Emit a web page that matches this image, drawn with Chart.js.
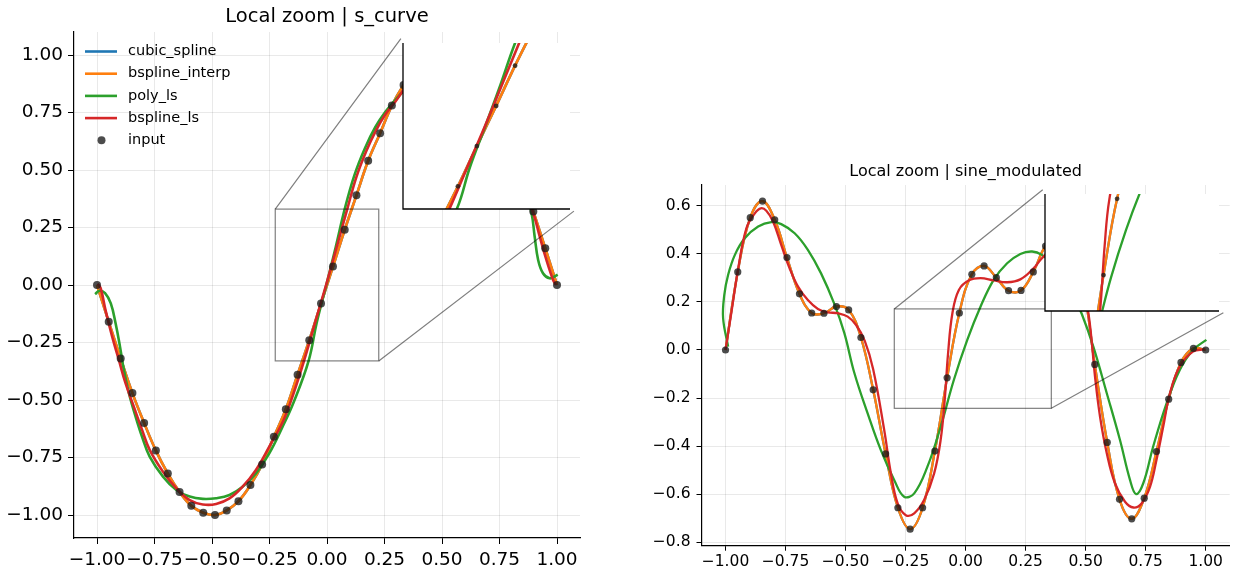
<!DOCTYPE html>
<html>
<head>
<meta charset="utf-8">
<script src="https://cdn.jsdelivr.net/npm/chart.js@4.4.1/dist/chart.umd.min.js"></script>
<style>
  body { margin: 0; background: #fff; }
  #wrap { position: relative; width: 1235px; height: 575px; overflow: hidden; }
  canvas { position: absolute; top: 0; }
</style>
</head>
<body>
<div id="wrap">
  <canvas id="mainS" width="620" height="575" style="left:0px"></canvas>
  <canvas id="mainSine" width="615" height="575" style="left:620px"></canvas>
  <canvas id="insetS"></canvas>
  <canvas id="insetSine"></canvas>
</div>
<script>
// shared parameter grid of the input points
const xIn = [-1, -0.949, -0.897, -0.846, -0.795, -0.744, -0.692, -0.641, -0.59, -0.538,
  -0.487, -0.436, -0.385, -0.333, -0.282, -0.231, -0.179, -0.128, -0.077, -0.026,
  0.026, 0.077, 0.128, 0.179, 0.231, 0.282, 0.333, 0.385, 0.436, 0.487,
  0.538, 0.59, 0.641, 0.692, 0.744, 0.795, 0.846, 0.897, 0.949, 1];

// s_curve
const sCurveIn = [0, -0.16, -0.32, -0.47, -0.6, -0.72, -0.82, -0.9, -0.96, -0.99,
  -1, -0.98, -0.94, -0.87, -0.78, -0.66, -0.54, -0.39, -0.24, -0.08,
  0.08, 0.24, 0.39, 0.54, 0.66, 0.78, 0.87, 0.94, 0.98, 1,
  0.99, 0.96, 0.9, 0.82, 0.72, 0.6, 0.47, 0.32, 0.16, 0];
const sCurvePolyX = [-1.008, -0.99, -0.965, -0.94, -0.919, -0.9, -0.883, -0.861, -0.832, -0.804,
  -0.771, -0.713, -0.655, -0.597, -0.54, -0.482, -0.424, -0.367, -0.309, -0.251,
  -0.193, -0.145, -0.08, -0.045, -0.003, 0.038, 0.077, 0.12, 0.165, 0.211,
  0.254, 0.297, 0.36, 0.45, 0.55, 0.65, 0.75, 0.83, 0.889, 0.903,
  0.918, 0.939, 0.968, 0.993, 1.003];
const sCurvePolyY = [-0.04, -0.025, -0.035, -0.08, -0.167, -0.268, -0.37, -0.471, -0.573, -0.66,
  -0.746, -0.833, -0.891, -0.92, -0.93, -0.927, -0.913, -0.877, -0.819, -0.732,
  -0.616, -0.51, -0.33, -0.165, 0, 0.165, 0.33, 0.48, 0.595, 0.688,
  0.753, 0.804, 0.87, 0.93, 0.95, 0.9, 0.76, 0.55, 0.314, 0.21,
  0.109, 0.051, 0.029, 0.039, 0.045];
const sCurveBlsX = [-0.997, -0.984, -0.963, -0.934, -0.905, -0.876, -0.84, -0.804, -0.771, -0.713,
  -0.655, -0.597, -0.54, -0.482, -0.424, -0.367, -0.309, -0.251, -0.19, -0.145,
  -0.1, -0.052, -0.004, 0.042, 0.088, 0.128, 0.17, 0.211, 0.254, 0.297,
  0.4, 0.5, 0.6, 0.7, 0.8, 0.896, 0.925, 0.954, 0.983, 0.995];
const sCurveBlsY = [0.005, -0.014, -0.109, -0.225, -0.326, -0.427, -0.529, -0.63, -0.717, -0.812,
  -0.884, -0.935, -0.954, -0.952, -0.928, -0.877, -0.804, -0.703, -0.59, -0.47,
  -0.33, -0.165, 0, 0.165, 0.33, 0.47, 0.58, 0.668, 0.742, 0.797,
  0.93, 0.96, 0.91, 0.77, 0.56, 0.314, 0.21, 0.109, 0.022, 0];

// sine_modulated
const sinModIn = [0, 0.325, 0.551, 0.62, 0.542, 0.385, 0.234, 0.154, 0.153, 0.181,
  0.167, 0.052, -0.166, -0.433, -0.657, -0.746, -0.657, -0.421, -0.116, 0.154,
  0.315, 0.35, 0.301, 0.247, 0.248, 0.325, 0.433, 0.47, 0.42, 0.28,
  -0.06, -0.385, -0.622, -0.703, -0.617, -0.423, -0.205, -0.052, 0.007, 0];
const sinModPolyX = [-0.989, -1.01, -1.005, -0.989, -0.961, -0.92, -0.864, -0.809, -0.768, -0.712,
  -0.657, -0.602, -0.546, -0.505, -0.463, -0.408, -0.353, -0.297, -0.256, -0.214,
  -0.159, -0.104, -0.049, 0.007, 0.062, 0.117, 0.173, 0.228, 0.277, 0.318,
  0.37, 0.42, 0.455, 0.484, 0.532, 0.588, 0.643, 0.685, 0.71, 0.74,
  0.781, 0.837, 0.892, 0.947, 1.003];
const sinModPolyY = [0.014, 0.132, 0.229, 0.313, 0.396, 0.465, 0.514, 0.532, 0.524, 0.486,
  0.417, 0.319, 0.19, 0.07, -0.097, -0.264, -0.417, -0.542, -0.611, -0.597,
  -0.486, -0.32, -0.125, 0.042, 0.18, 0.292, 0.361, 0.4, 0.41, 0.396,
  0.35, 0.27, 0.21, 0.15, 0.014, -0.18, -0.375, -0.542, -0.6, -0.555,
  -0.403, -0.222, -0.083, 0, 0.042];
const sinModBlsX = [-1, -0.975, -0.947, -0.913, -0.878, -0.853, -0.83, -0.802, -0.768, -0.733,
  -0.698, -0.657, -0.615, -0.574, -0.532, -0.491, -0.456, -0.42, -0.385, -0.339,
  -0.311, -0.283, -0.249, -0.214, -0.173, -0.131, -0.104, -0.087, -0.073, -0.055,
  -0.028, 0.014, 0.062, 0.117, 0.173, 0.228, 0.283, 0.318, 0.37, 0.42,
  0.46, 0.49, 0.512, 0.526, 0.539, 0.56, 0.588, 0.622, 0.664, 0.699,
  0.733, 0.768, 0.795, 0.823, 0.851, 0.892, 0.947, 0.996];
const sinModBlsY = [0, 0.16, 0.34, 0.507, 0.569, 0.59, 0.58, 0.535, 0.438, 0.34,
  0.264, 0.208, 0.171, 0.157, 0.153, 0.139, 0.104, 0.038, -0.08, -0.333,
  -0.514, -0.639, -0.688, -0.68, -0.625, -0.514, -0.375, -0.208, -0.014, 0.153,
  0.25, 0.29, 0.299, 0.29, 0.282, 0.294, 0.34, 0.382, 0.43, 0.44,
  0.38, 0.27, 0.15, 0.028, -0.111, -0.278, -0.43, -0.555, -0.632, -0.656,
  -0.639, -0.57, -0.458, -0.32, -0.18, -0.069, -0.007, 0.003];

// ticks and zoom windows
const xTicks = [-1, -0.75, -0.5, -0.25, 0, 0.25, 0.5, 0.75, 1];
const sCurveYTicks = [-1, -0.75, -0.5, -0.25, 0, 0.25, 0.5, 0.75, 1];
const sinModYTicks = [-0.8, -0.6, -0.4, -0.2, 0, 0.2, 0.4, 0.6];
const sCurveZoomX = [-0.225, 0.225], sCurveZoomY = [-0.33, 0.33];
const sinModZoomX = [-0.297, 0.357], sinModZoomY = [-0.243, 0.171];

const FONT = "'DejaVu Sans', sans-serif";
const COL = { blue: '#1f77b4', orange: '#ff7f0e', green: '#2ca02c', red: '#d62728', dot: 'rgba(25,25,25,0.78)' };
const INSET = { l: 0.646, r: 0.988, b: 0.646, t: 0.987 }; // fraction of plot area

function fmtTick(v, d) {
  return (v < -1e-9 ? '\u2212' : '') + Math.abs(v).toFixed(d);
}

function pts(xs, ys) { return xs.map((x, i) => ({ x, y: ys[i] })); }

function lineSet(label, color, xs, ys, lw, order, clip) {
  return { label, data: pts(xs, ys), showLine: true, borderColor: color, backgroundColor: color,
    borderWidth: lw, pointRadius: 0, tension: 0.4, order, clip };
}

function buildSets(inY, polyX, polyY, blsX, blsY, lw, r, clip) {
  return [
    lineSet('cubic_spline', COL.blue, xIn, inY, lw, 4, clip),
    lineSet('bspline_interp', COL.orange, xIn, inY, lw, 3, clip),
    lineSet('poly_ls', COL.green, polyX, polyY, lw, 2, clip),
    lineSet('bspline_ls', COL.red, blsX, blsY, lw, 1, clip),
    { label: 'input', data: pts(xIn, inY), showLine: false, pointRadius: r,
      pointBackgroundColor: COL.dot, pointBorderWidth: 0, order: 0, clip }
  ];
}

function insetBox(a) {
  const w = a.right - a.left, h = a.bottom - a.top;
  return { x0: a.left + INSET.l * w, x1: a.left + INSET.r * w,
           y0: a.bottom - INSET.t * h, y1: a.bottom - INSET.b * h };
}

function mainChart(id, s) {
  const decor = {
    id: 'decor',
    afterDatasetsDraw(chart) {
      const { ctx, chartArea, scales } = chart;
      const rx0 = scales.x.getPixelForValue(s.zoomX[0]), rx1 = scales.x.getPixelForValue(s.zoomX[1]);
      const ryT = scales.y.getPixelForValue(s.zoomY[1]), ryB = scales.y.getPixelForValue(s.zoomY[0]);
      const b = insetBox(chartArea);
      ctx.save();
      ctx.strokeStyle = 'rgba(0,0,0,0.5)';
      ctx.lineWidth = 1.2;
      ctx.strokeRect(rx0, ryT, rx1 - rx0, ryB - ryT);
      ctx.beginPath();
      ctx.moveTo(rx0, ryT); ctx.lineTo(b.x0, b.y0);
      ctx.moveTo(rx1, ryB); ctx.lineTo(b.x1, b.y1);
      ctx.stroke();
      ctx.restore();
    },
    afterDraw(chart) {
      const { ctx, chartArea } = chart;
      ctx.save();
      ctx.fillStyle = '#000';
      ctx.font = s.titleSize + 'px ' + FONT;
      ctx.textAlign = 'center';
      ctx.textBaseline = 'middle';
      ctx.fillText(s.title, (chartArea.left + chartArea.right) / 2, s.titleY);
      if (s.legend) {
        ctx.font = '14.5px ' + FONT;
        ctx.textAlign = 'left';
        chart.data.datasets.forEach((ds, i) => {
          const yy = 51.5 + i * 22.2;
          if (ds.showLine) {
            ctx.strokeStyle = ds.borderColor;
            ctx.lineWidth = s.lw;
            ctx.beginPath(); ctx.moveTo(85, yy); ctx.lineTo(117, yy); ctx.stroke();
          } else {
            ctx.fillStyle = ds.pointBackgroundColor;
            ctx.beginPath(); ctx.arc(101.5, yy, s.r, 0, Math.PI * 2); ctx.fill();
          }
          ctx.fillStyle = '#000';
          ctx.fillText(ds.label, 128, yy);
        });
      }
      ctx.restore();
    }
  };
  const axis = (ticks, min, max, dec, pad, fit) => ({
    type: 'linear', min, max,
    afterBuildTicks: (sc) => { sc.ticks = ticks.map(v => ({ value: v })); },
    afterFit: fit,
    ticks: { autoSkip: false, maxRotation: 0, color: '#000', padding: pad,
      font: { family: FONT, size: s.tickSize }, callback: (v) => fmtTick(v, dec) },
    grid: { color: 'rgba(0,0,0,0.085)', lineWidth: 1, tickLength: s.tickLen, tickColor: '#000', tickWidth: 1 },
    border: { color: '#000', width: 1.2 }
  });
  return new Chart(document.getElementById(id), {
    type: 'scatter',
    data: { datasets: buildSets(s.inY, s.polyX, s.polyY, s.blsX, s.blsY, s.lw, s.r) },
    options: {
      responsive: false, animation: false, events: [],
      layout: { padding: { top: s.top, right: s.right, left: 0, bottom: 0 } },
      elements: { line: { capBezierPoints: false } },
      plugins: { legend: { display: false }, tooltip: { enabled: false }, title: { display: false } },
      scales: {
        x: axis(xTicks, -1.1, 1.1, 2, s.xPad, (sc) => { sc.height = s.xh; }),
        y: axis(s.yTicks, s.ymin, s.ymax, s.ydec, s.yPad, (sc) => { sc.width = s.yw; })
      }
    },
    plugins: [decor]
  });
}

function insetChart(id, main, offsetLeft, s) {
  const b = insetBox(main.chartArea);
  const x0 = Math.round(b.x0), y0 = Math.round(b.y0);
  const w = Math.round(b.x1) - x0, h = Math.round(b.y1) - y0;
  const cv = document.getElementById(id);
  cv.width = w + 2; cv.height = h + 2;
  cv.style.left = (offsetLeft + x0 - 2) + 'px';
  cv.style.top = y0 + 'px';
  const frame = {
    id: 'frame',
    beforeDraw(chart) {
      const a = chart.chartArea, ctx = chart.ctx;
      ctx.save(); ctx.fillStyle = '#fff';
      ctx.fillRect(a.left, a.top, a.right - a.left, a.bottom - a.top);
      ctx.restore();
    },
    afterDraw(chart) {
      const a = chart.chartArea, ctx = chart.ctx;
      ctx.save(); ctx.strokeStyle = '#000'; ctx.lineWidth = 1.3;
      ctx.beginPath();
      ctx.moveTo(a.left, a.top); ctx.lineTo(a.left, a.bottom); ctx.lineTo(a.right, a.bottom);
      ctx.stroke(); ctx.restore();
    }
  };
  return new Chart(cv, {
    type: 'scatter',
    data: { datasets: buildSets(s.inY, s.polyX, s.polyY, s.blsX, s.blsY, s.lw, 2.4, 0) },
    options: {
      responsive: false, animation: false, events: [],
      layout: { padding: { top: 0, right: 0, left: 2, bottom: 2 } },
      elements: { line: { capBezierPoints: false } },
      plugins: { legend: { display: false }, tooltip: { enabled: false } },
      scales: {
        x: { type: 'linear', display: false, min: s.zoomX[0], max: s.zoomX[1] },
        y: { type: 'linear', display: false, min: s.zoomY[0], max: s.zoomY[1] }
      }
    },
    plugins: [frame]
  });
}

const sCfg = {
  title: 'Local zoom | s_curve', titleSize: 19.5, titleY: 17, legend: true,
  inY: sCurveIn, polyX: sCurvePolyX, polyY: sCurvePolyY, blsX: sCurveBlsX, blsY: sCurveBlsY,
  yTicks: sCurveYTicks, ymin: -1.1, ymax: 1.1, ydec: 2,
  zoomX: sCurveZoomX, zoomY: sCurveZoomY,
  lw: 2.6, r: 4, tickSize: 18.5, tickLen: 6, xPad: 5, yPad: 5,
  top: 32, right: 40, xh: 37, yw: 74
};
const sineCfg = {
  title: 'Local zoom | sine_modulated', titleSize: 16, titleY: 172, legend: false,
  inY: sinModIn, polyX: sinModPolyX, polyY: sinModPolyY, blsX: sinModBlsX, blsY: sinModBlsY,
  yTicks: sinModYTicks, ymin: -0.815, ymax: 0.687, ydec: 1,
  zoomX: sinModZoomX, zoomY: sinModZoomY,
  lw: 2.3, r: 3.6, tickSize: 15.5, tickLen: 5, xPad: 2, yPad: 6,
  top: 185, right: 5.3, xh: 29.3, yw: 81.5
};

const mainS = mainChart('mainS', sCfg);
const mainSine = mainChart('mainSine', sineCfg);
insetChart('insetS', mainS, 0, sCfg);
insetChart('insetSine', mainSine, 620, sineCfg);
</script>
</body>
</html>
